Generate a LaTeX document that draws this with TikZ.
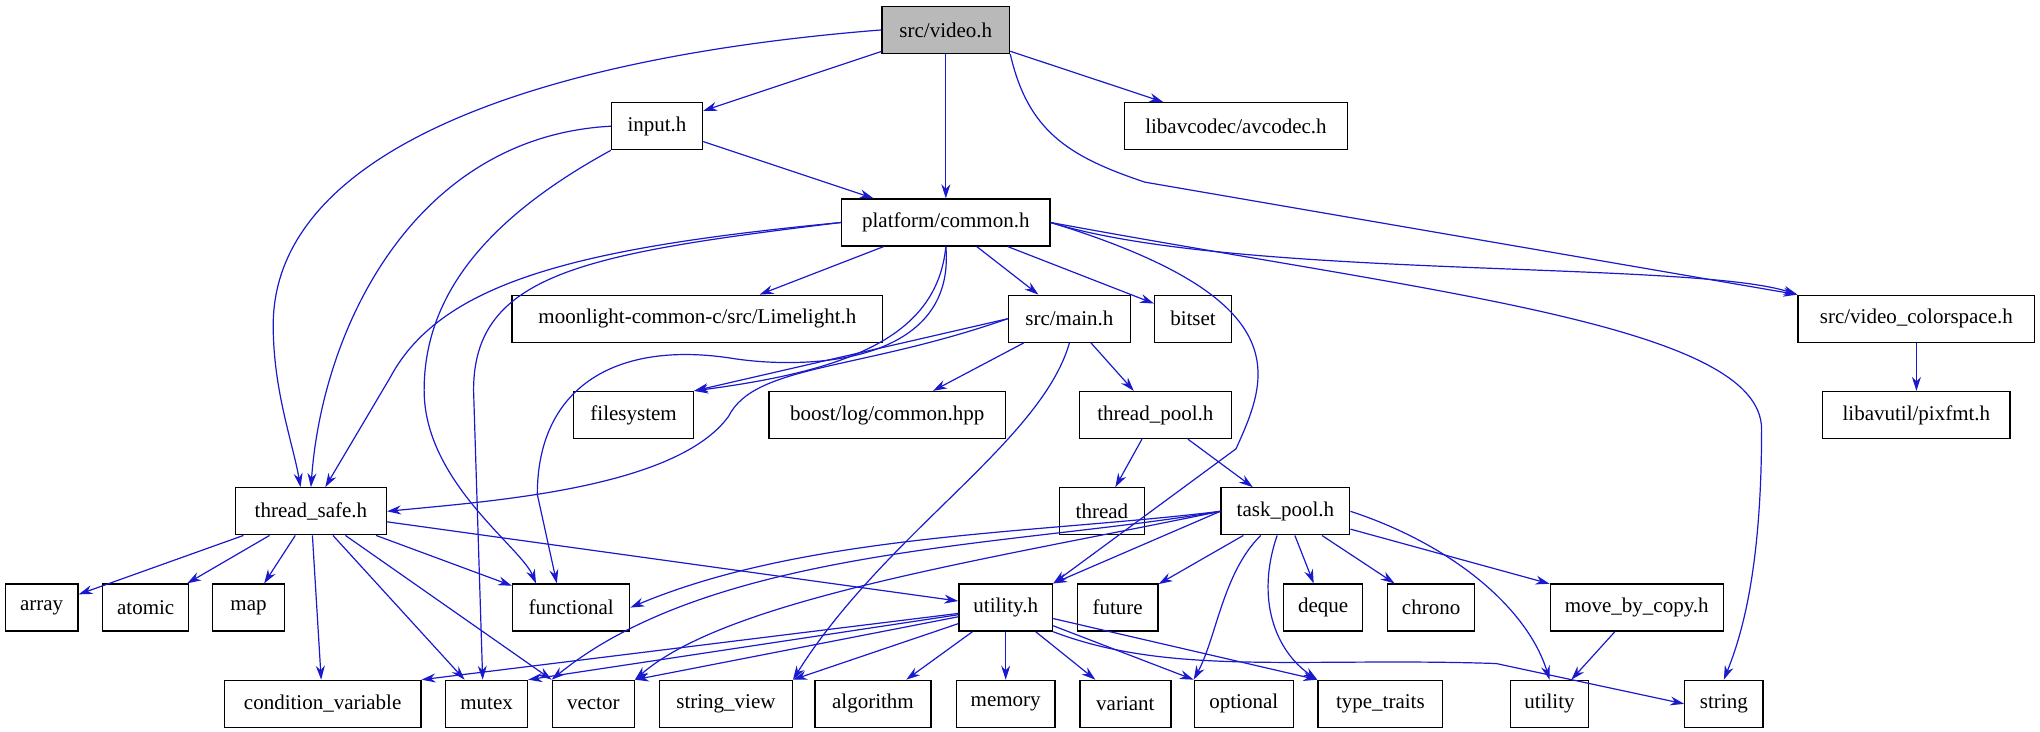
\documentclass[tikz,border=0pt]{standalone}
\usepackage{fontspec}
\setmainfont{Liberation Serif}
\usetikzlibrary{arrows.meta}
\definecolor{edge}{RGB}{25,25,205}
\begin{document}
\begin{tikzpicture}[x=1.301pt,y=-1.301pt,
 n/.style={draw,line width=1.3pt,minimum height=47pt,inner xsep=2pt,font=\fontsize{21}{21}\selectfont,fill=white,minimum width=#1*1.301pt},
 e/.style={draw=edge,line width=1.2pt,-{Stealth[length=14pt,width=9pt]}}]
\useasboundingbox (0,0) rectangle (1568,562);
\node[n=98,fill=gray!55] (video) at (727,23) {src/video.h};
\node[n=70] (input) at (505,97) {input.h};
\node[n=171] (avc) at (950,97) {libavcodec/avcodec.h};
\node[n=160] (plat) at (727,171) {platform/common.h};
\node[n=285] (lime) at (536,245) {moonlight-common-c/src/Limelight.h};
\node[n=94] (main) at (822,245) {src/main.h};
\node[n=59] (bitset) at (917,245) {bitset};
\node[n=182] (vcs) at (1473,245) {src/video\_colorspace.h};
\node[n=92] (fs) at (487,319) {filesystem};
\node[n=182] (boost) at (682,319) {boost/log/common.hpp};
\node[n=117] (tp) at (888,319) {thread\_pool.h};
\node[n=144] (pix) at (1473,319) {libavutil/pixfmt.h};
\node[n=116] (ts) at (239,393) {thread\_safe.h};
\node[n=65] (thread) at (847,393) {thread};
\node[n=99] (task) at (988,393) {task\_pool.h};
\node[n=56] (array) at (32,467) {array};
\node[n=66] (atomic) at (112,467) {atomic};
\node[n=55] (map) at (191,467) {map};
\node[n=90] (func) at (439,467) {functional};
\node[n=72] (util) at (773,467) {utility.h};
\node[n=62] (future) at (859,467) {future};
\node[n=61] (deque) at (1017,467) {deque};
\node[n=67] (chrono) at (1100,467) {chrono};
\node[n=133] (mbc) at (1258,467) {move\_by\_copy.h};
\node[n=151] (cv) at (248,541) {condition\_variable};
\node[n=63] (mutex) at (374,541) {mutex};
\node[n=63] (vector) at (456,541) {vector};
\node[n=102] (sv) at (558,541) {string\_view};
\node[n=89] (algo) at (671,541) {algorithm};
\node[n=76] (memory) at (773,541) {memory};
\node[n=70] (variant) at (865,541) {variant};
\node[n=76] (optional) at (956,541) {optional};
\node[n=96] (tt) at (1061,541) {type\_traits};
\node[n=60] (utility) at (1191,541) {utility};
\node[n=60] (string) at (1325,541) {string};
% video.h
\draw[e] (video) -- (input);
\draw[e] (video.west) .. controls (400,45) and (210,120) .. (210,250) .. controls (210,300) and (225,340) .. (ts.north -| 231,0);
\draw[e] (video) -- (plat);
\draw[e] (video) -- (avc);
\draw[e] (video.south east) .. controls (790,100) and (820,120) .. (880,140) -- (vcs.north west);
% input.h
\draw[e] (input) -- (plat);
\draw[e] (input.west) .. controls (320,105) and (248,250) .. (ts.north);
\draw[e] (input.south west) .. controls (370,170) and (326,230) .. (326,300) .. controls (326,370) and (400,420) .. (func.north -| 412,0);
% platform
\draw[e] (plat) -- (lime);
\draw[e] (plat) -- (main);
\draw[e] (plat) -- (bitset);
\draw[e] (plat.east) .. controls (950,215) and (1300,200) .. (vcs.north west);
\draw[e] (plat.south) .. controls (720,260) and (650,285) .. (fs.north east);
\draw[e] (plat.west) .. controls (450,190) and (340,215) .. (300,290) -- (ts.north -| 250,0);
\draw[e] (plat.west) .. controls (450,195) and (364,210) .. (364,300) -- (mutex.north -| 371,0);
\draw[e] (plat.south) .. controls (735,280) and (620,285) .. (560,275) .. controls (470,262) and (413,300) .. (413,380) -- (func.north -| 428,0);
\draw[e] (plat.east) .. controls (1000,230) and (975,290) .. (950,345) -- (util.north east);
\draw[e] (plat.east) .. controls (1100,225) and (1354,250) .. (1354,330) .. controls (1354,440) and (1338,490) .. (string.north);
% main.h
\draw[e] (main.west) -- (fs.north east);
\draw[e] (main) -- (boost);
\draw[e] (main) -- (tp);
\draw[e] (main.west) .. controls (660,285) and (580,280) .. (560,320) .. controls (520,375) and (380,385) .. (ts.east);
\draw[e] (main.south) .. controls (800,340) and (680,410) .. (sv.north east);
% others
\draw[e] (vcs) -- (pix);
\draw[e] (tp) -- (thread);
\draw[e] (tp) -- (task);
\draw[e] (ts) -- (array);
\draw[e] (ts) -- (atomic);
\draw[e] (ts) -- (map);
\draw[e] (ts) -- (func);
\draw[e] (ts) -- (util);
\draw[e] (ts) -- (cv);
\draw[e] (ts) -- (mutex);
\draw[e] (ts) -- (vector.north west);
\draw[e] (task.west) .. controls (800,410) and (620,410) .. (func.east);
\draw[e] (task.west) -- (util.north east);
\draw[e] (task) -- (future);
\draw[e] (task) -- (deque);
\draw[e] (task) -- (chrono);
\draw[e] (task) -- (mbc);
\draw[e] (task.east) .. controls (1120,420) and (1175,470) .. (utility.north);
\draw[e] (task) .. controls (940,440) and (935,490) .. (optional.north west);
\draw[e] (task) .. controls (965,460) and (980,500) .. (tt.north west);
\draw[e] (task.west) .. controls (780,420) and (550,420) .. (vector.north west);
\draw[e] (task.west) .. controls (760,430) and (560,460) .. (vector.north east);
\draw[e] (util) -- (cv.north east);
\draw[e] (util) -- (mutex.north east);
\draw[e] (util) -- (vector.north east);
\draw[e] (util) -- (sv.north east);
\draw[e] (util) -- (algo);
\draw[e] (util) -- (memory);
\draw[e] (util) -- (variant);
\draw[e] (util) -- (optional.north west);
\draw[e] (util) -- (tt.north west);
\draw[e] (util.south east) .. controls (900,520) and (1000,505) .. (1150,510) -- (string.west);
\draw[e] (mbc) -- (utility);
\end{tikzpicture}
\end{document}
